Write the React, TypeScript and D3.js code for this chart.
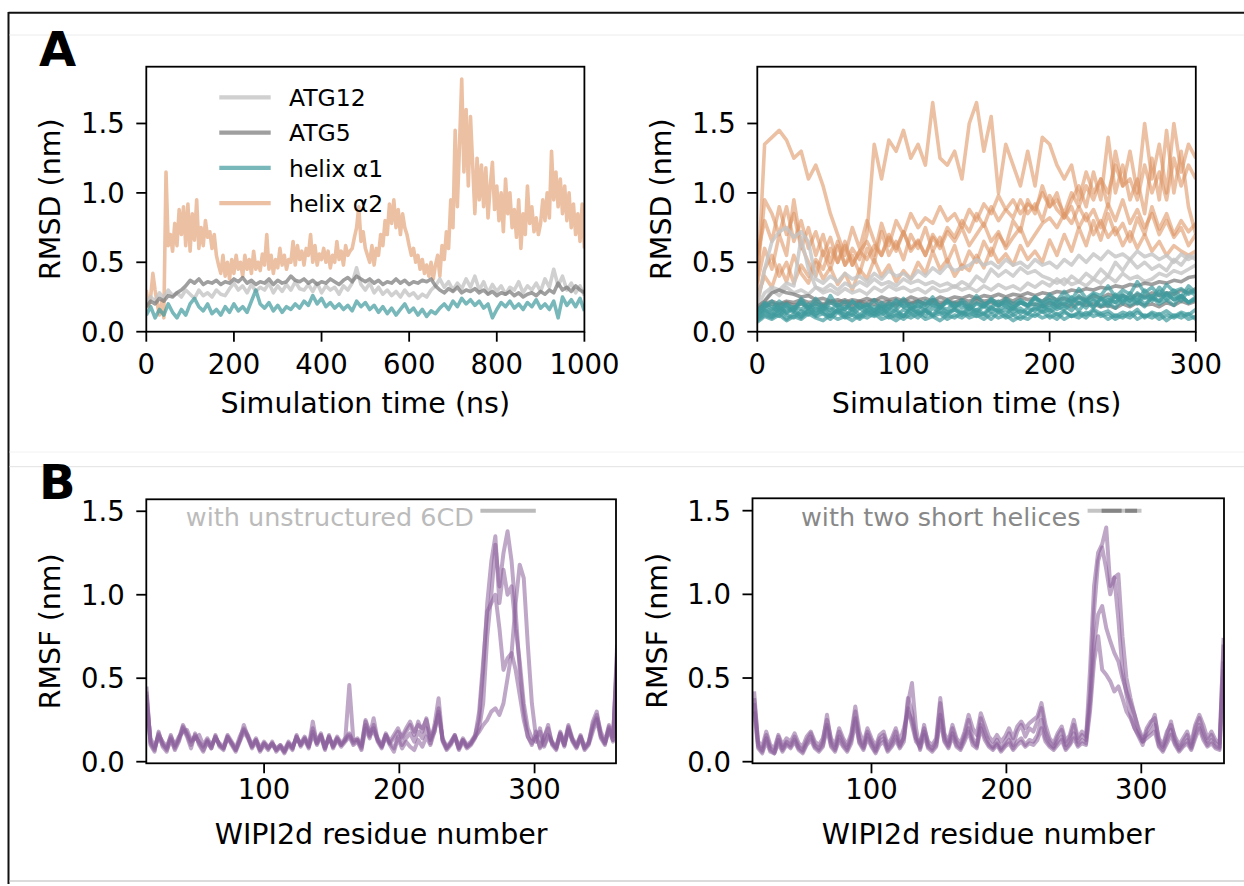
import React from 'react';
import * as d3 from 'd3';

const FONT = 'DejaVu Sans, sans-serif';

// ---------- Panel A (left): single 1000 ns run ----------
const TIME_A_COARSE = d3.range(0, 1001, 10);
const TIME_A_FINE = d3.range(0, 1001, 5);

const ATG12_A = [
  0.20, 0.25, 0.22, 0.28, 0.24, 0.30, 0.26, 0.28, 0.25, 0.30,
  0.27, 0.24, 0.30, 0.26, 0.28, 0.25, 0.30, 0.27, 0.26, 0.31,
  0.35, 0.30, 0.33, 0.28, 0.34, 0.29, 0.32, 0.30, 0.35, 0.28,
  0.33, 0.29, 0.34, 0.30, 0.36, 0.31, 0.30, 0.34, 0.29, 0.35,
  0.28, 0.33, 0.30, 0.32, 0.27, 0.33, 0.30, 0.35, 0.46, 0.34,
  0.30, 0.35, 0.28, 0.32, 0.27, 0.30, 0.26, 0.29, 0.25, 0.30,
  0.26, 0.28, 0.24, 0.27, 0.25, 0.30, 0.33, 0.38, 0.32, 0.36,
  0.30, 0.35, 0.31, 0.38, 0.32, 0.40, 0.30, 0.36, 0.28, 0.34,
  0.29, 0.33, 0.27, 0.32, 0.30, 0.36, 0.28, 0.33, 0.30, 0.35,
  0.29, 0.38, 0.32, 0.45, 0.33, 0.40, 0.30, 0.35, 0.28, 0.33,
  0.26,
];
const ATG5_A = [
  0.18, 0.22, 0.20, 0.24, 0.22, 0.26, 0.25, 0.28, 0.30, 0.33,
  0.37, 0.35, 0.38, 0.34, 0.36, 0.35, 0.37, 0.34, 0.36, 0.35,
  0.38, 0.36, 0.39, 0.35, 0.37, 0.34, 0.36, 0.35, 0.38, 0.34,
  0.37, 0.35, 0.36, 0.40, 0.37, 0.36, 0.38, 0.35, 0.37, 0.34,
  0.36, 0.35, 0.38, 0.36, 0.34, 0.37, 0.39, 0.36, 0.40, 0.38,
  0.36, 0.38, 0.35, 0.37, 0.34, 0.36, 0.35, 0.38, 0.35, 0.37,
  0.34, 0.36, 0.35, 0.37, 0.36, 0.38, 0.33, 0.30, 0.28, 0.31,
  0.29, 0.32, 0.28, 0.30, 0.29, 0.31, 0.28, 0.30, 0.27, 0.29,
  0.26, 0.28, 0.27, 0.29, 0.26, 0.28, 0.25, 0.27, 0.28, 0.26,
  0.29, 0.27, 0.30, 0.28, 0.35, 0.30, 0.32, 0.29, 0.33, 0.30,
  0.28,
];
const HELIX1_A = [
  0.12, 0.18, 0.10, 0.16, 0.12, 0.20, 0.14, 0.10, 0.16, 0.12,
  0.20, 0.24, 0.18, 0.15, 0.20, 0.13, 0.16, 0.12, 0.18, 0.14,
  0.20, 0.15, 0.18, 0.14, 0.22, 0.30, 0.20, 0.17, 0.21, 0.15,
  0.19, 0.14, 0.18, 0.16, 0.20, 0.17, 0.22, 0.19, 0.26, 0.20,
  0.24, 0.18, 0.21, 0.17, 0.20, 0.16, 0.19, 0.15, 0.22, 0.18,
  0.21, 0.16, 0.19, 0.14, 0.18, 0.13, 0.17, 0.12, 0.16, 0.20,
  0.14, 0.17, 0.12, 0.16, 0.11, 0.15, 0.13, 0.17, 0.20, 0.16,
  0.22, 0.18, 0.24, 0.20, 0.23, 0.19, 0.22, 0.17, 0.20, 0.10,
  0.16, 0.21, 0.18, 0.22, 0.17, 0.20, 0.16, 0.21, 0.18, 0.23,
  0.17, 0.20, 0.16, 0.22, 0.10, 0.25, 0.19, 0.23, 0.18, 0.24,
  0.15,
];
const HELIX2_A = [
  0.30, 0.18, 0.25, 0.42, 0.30, 0.20, 0.12, 0.22, 0.10, 1.15,
  0.62, 0.70, 0.58, 0.78, 0.62, 0.88, 0.70, 0.90, 0.62, 0.92,
  0.58, 0.85, 0.66, 0.95, 0.60, 0.75, 0.62, 0.80, 0.68, 0.72,
  0.60, 0.70, 0.55, 0.48, 0.42, 0.55, 0.40, 0.50, 0.38, 0.52,
  0.42, 0.55, 0.45, 0.50, 0.40, 0.55, 0.45, 0.52, 0.42, 0.58,
  0.45, 0.50, 0.44, 0.56, 0.48, 0.70, 0.45, 0.55, 0.42, 0.52,
  0.46, 0.60, 0.48, 0.55, 0.45, 0.52, 0.50, 0.65, 0.48, 0.62,
  0.52, 0.58, 0.48, 0.60, 0.55, 0.70, 0.50, 0.62, 0.48, 0.56,
  0.52, 0.60, 0.50, 0.58, 0.46, 0.55, 0.50, 0.65, 0.52, 0.58,
  0.48, 0.62, 0.55, 0.58, 0.60, 0.68, 0.75, 0.90, 0.65, 0.72,
  0.60, 0.55, 0.50, 0.62, 0.48, 0.60, 0.55, 0.70, 0.62, 0.80,
  0.70, 0.92, 0.78, 0.95, 0.75, 0.88, 0.70, 0.85, 0.75, 0.70,
  0.62, 0.55, 0.60, 0.50, 0.55, 0.45, 0.52, 0.42, 0.48, 0.40,
  0.50, 0.38, 0.48, 0.55, 0.40, 0.62, 0.52, 0.72, 0.60, 0.95,
  0.75, 1.45, 0.90, 1.35, 1.82, 1.15, 1.60, 1.05, 1.55, 1.20,
  0.85, 1.25, 0.95, 1.20, 0.90, 1.18, 0.82, 1.05, 1.22, 0.88,
  1.05, 0.80, 1.00, 0.72, 1.10, 0.85, 1.00, 0.75, 0.88, 0.68,
  0.95, 0.60, 0.85, 0.70, 1.05, 0.78, 0.90, 0.72, 0.82, 0.70,
  0.78, 0.95, 0.80, 1.00, 0.82, 1.30, 0.95, 1.15, 0.90, 1.10,
  0.85, 1.05, 0.80, 1.00, 0.75, 0.92, 0.70, 0.85, 0.65, 0.92,
  0.60,
];

// ---------- Panel A (right): replicate 300 ns runs ----------
const TIME_A_REP = d3.range(0, 301, 5);

const HELIX2_REPS = [
  [0.30, 1.35, 1.40, 1.45, 1.38, 1.25, 1.30, 1.10, 1.20, 1.05, 0.85, 0.70, 0.55, 0.75, 0.60, 0.80, 0.65, 0.55, 0.70, 0.60,
   0.72, 0.58, 0.65, 0.55, 0.68, 0.60, 0.72, 0.65, 0.75, 0.62, 0.70, 0.78, 0.65, 0.72, 0.60, 0.68, 0.75, 0.62, 0.70, 0.78,
   0.82, 0.75, 0.85, 0.78, 0.90, 0.80, 0.88, 0.75, 0.92, 0.80, 0.95, 0.78, 0.88, 0.75, 0.85, 0.70, 0.80, 0.68, 0.75, 0.62, 0.70],
  [0.55, 0.80, 0.65, 0.90, 0.70, 0.85, 0.60, 0.75, 0.55, 0.70, 0.50, 0.65, 0.48, 0.60, 0.52, 0.70, 1.35, 1.10, 1.38, 1.30,
   1.45, 1.25, 1.35, 1.20, 1.65, 1.25, 1.20, 1.30, 1.10, 1.50, 1.65, 1.30, 1.55, 1.00, 1.35, 1.20, 1.05, 1.30, 1.05, 1.40,
   1.35, 1.20, 1.10, 1.20, 0.95, 1.15, 1.00, 1.10, 0.90, 1.30, 1.05, 1.10, 0.95, 1.20, 1.00, 1.15, 0.95, 1.25, 1.05, 1.20, 1.10],
  [0.40, 0.95, 0.85, 0.70, 0.90, 0.65, 0.80, 0.60, 0.72, 0.55, 0.68, 0.50, 0.62, 0.48, 0.58, 0.65, 0.55, 0.78, 0.62, 0.80,
   0.70, 0.85, 0.75, 0.82, 0.78, 0.90, 0.80, 0.85, 0.75, 0.88, 0.80, 0.92, 0.85, 0.98, 0.88, 0.95, 0.85, 0.92, 0.88, 1.00,
   0.90, 0.95, 0.85, 1.00, 0.90, 1.05, 0.95, 1.10, 1.00, 1.20, 1.05, 1.30, 1.00, 1.50, 1.10, 1.35, 1.00, 1.50, 1.15, 1.35, 1.25],
  [0.20, 0.45, 0.55, 0.40, 0.50, 0.35, 0.48, 0.40, 0.52, 0.45, 0.60, 0.50, 0.65, 0.48, 0.58, 0.52, 0.62, 0.55, 0.68, 0.58,
   0.72, 0.60, 0.66, 0.55, 0.70, 0.62, 0.75, 0.68, 0.80, 0.72, 0.85, 0.76, 0.90, 0.80, 0.88, 0.82, 0.95, 0.85, 0.92, 0.80,
   0.98, 0.88, 0.82, 0.90, 0.75, 0.85, 0.70, 0.80, 0.68, 0.75, 0.62, 0.72, 0.60, 0.70, 0.58, 0.65, 0.55, 0.62, 0.58, 0.55, 0.58],
  [0.35, 0.60, 0.45, 0.70, 0.55, 0.95, 0.62, 0.50, 0.40, 0.58, 0.45, 0.62, 0.48, 0.55, 0.42, 0.60, 0.50, 0.72, 0.55, 0.65,
   0.52, 0.70, 0.60, 0.75, 0.58, 0.68, 0.50, 0.62, 0.45, 0.58, 0.50, 0.65, 0.55, 0.70, 0.62, 0.80, 0.72, 0.95, 0.85, 1.05,
   0.90, 1.00, 0.82, 0.95, 1.05, 0.90, 1.15, 0.95, 1.40, 1.00, 1.20, 0.95, 1.10, 0.85, 1.25, 0.95, 1.45, 1.00, 1.30, 0.90, 0.70],
  [0.25, 0.40, 0.32, 0.48, 0.36, 0.55, 0.42, 0.35, 0.50, 0.38, 0.46, 0.34, 0.42, 0.30, 0.45, 0.38, 0.52, 0.40, 0.48, 0.36,
   0.44, 0.38, 0.50, 0.42, 0.58, 0.45, 0.52, 0.40, 0.48, 0.44, 0.55, 0.46, 0.60, 0.50, 0.56, 0.48, 0.62, 0.52, 0.58, 0.50,
   0.66, 0.55, 0.70, 0.58, 0.75, 0.62, 0.80, 0.66, 0.85, 0.70, 0.78, 0.65, 0.82, 0.70, 0.90, 0.74, 0.85, 0.70, 0.80, 0.72, 0.78],
];
const ATG12_REPS = [
  [0.20, 0.45, 0.65, 0.72, 0.75, 0.68, 0.72, 0.65, 0.38, 0.35, 0.40, 0.36, 0.42, 0.38, 0.40, 0.36, 0.42, 0.38, 0.44, 0.40,
   0.42, 0.38, 0.44, 0.40, 0.46, 0.42, 0.48, 0.44, 0.46, 0.48, 0.52, 0.48, 0.50, 0.46, 0.52, 0.48, 0.50, 0.46, 0.52, 0.48,
   0.50, 0.46, 0.52, 0.48, 0.55, 0.50, 0.56, 0.52, 0.58, 0.54, 0.56, 0.52, 0.58, 0.54, 0.56, 0.52, 0.55, 0.50, 0.56, 0.52, 0.55],
  [0.18, 0.28, 0.32, 0.30, 0.35, 0.33, 0.68, 0.45, 0.32, 0.30, 0.34, 0.30, 0.35, 0.32, 0.36, 0.33, 0.38, 0.34, 0.36, 0.33,
   0.38, 0.35, 0.37, 0.34, 0.36, 0.33, 0.35, 0.32, 0.36, 0.33, 0.40, 0.36, 0.45, 0.40, 0.44, 0.40, 0.46, 0.42, 0.44, 0.40,
   0.38, 0.35, 0.38, 0.34, 0.36, 0.33, 0.38, 0.35, 0.40, 0.36, 0.42, 0.38, 0.40, 0.36, 0.38, 0.42, 0.40, 0.44, 0.42, 0.45, 0.48],
  [0.15, 0.22, 0.30, 0.26, 0.32, 0.28, 0.30, 0.27, 0.32, 0.28, 0.30, 0.27, 0.31, 0.28, 0.30, 0.27, 0.32, 0.29, 0.33, 0.30,
   0.32, 0.29, 0.31, 0.28, 0.32, 0.29, 0.30, 0.33, 0.30, 0.32, 0.29, 0.33, 0.30, 0.34, 0.31, 0.33, 0.30, 0.35, 0.32, 0.36,
   0.33, 0.38, 0.34, 0.40, 0.36, 0.42, 0.38, 0.45, 0.40, 0.50, 0.44, 0.52, 0.46, 0.50, 0.45, 0.48, 0.44, 0.52, 0.48, 0.55, 0.52],
];
const ATG5_REPS = [
  [0.18, 0.22, 0.28, 0.30, 0.28, 0.27, 0.25, 0.26, 0.23, 0.24, 0.22, 0.23, 0.21, 0.23, 0.22, 0.24, 0.22, 0.25, 0.23, 0.24,
   0.22, 0.25, 0.23, 0.24, 0.22, 0.25, 0.23, 0.25, 0.24, 0.26, 0.24, 0.26, 0.25, 0.27, 0.25, 0.27, 0.26, 0.28, 0.26, 0.28,
   0.27, 0.29, 0.28, 0.30, 0.29, 0.31, 0.30, 0.32, 0.31, 0.33, 0.32, 0.34, 0.33, 0.35, 0.34, 0.36, 0.35, 0.37, 0.36, 0.39, 0.40],
  [0.16, 0.20, 0.22, 0.20, 0.22, 0.21, 0.23, 0.21, 0.22, 0.20, 0.22, 0.21, 0.23, 0.20, 0.22, 0.21, 0.23, 0.21, 0.22, 0.20,
   0.23, 0.21, 0.22, 0.20, 0.23, 0.21, 0.22, 0.21, 0.23, 0.22, 0.24, 0.22, 0.23, 0.21, 0.24, 0.22, 0.25, 0.23, 0.24, 0.22,
   0.25, 0.23, 0.24, 0.22, 0.25, 0.23, 0.26, 0.24, 0.27, 0.25, 0.26, 0.24, 0.27, 0.25, 0.28, 0.26, 0.28, 0.27, 0.30, 0.28, 0.31],
  [0.15, 0.18, 0.20, 0.19, 0.21, 0.19, 0.20, 0.18, 0.20, 0.19, 0.21, 0.19, 0.20, 0.18, 0.21, 0.19, 0.20, 0.18, 0.20, 0.19,
   0.21, 0.20, 0.22, 0.20, 0.21, 0.19, 0.22, 0.20, 0.21, 0.19, 0.22, 0.20, 0.21, 0.19, 0.22, 0.20, 0.21, 0.19, 0.20, 0.18,
   0.21, 0.19, 0.20, 0.18, 0.21, 0.19, 0.20, 0.18, 0.19, 0.17, 0.20, 0.18, 0.21, 0.19, 0.20, 0.18, 0.21, 0.19, 0.22, 0.20, 0.22],
];
const HELIX1_REPS = [
  [0.10, 0.15, 0.12, 0.18, 0.13, 0.17, 0.11, 0.16, 0.12, 0.18, 0.13, 0.15, 0.11, 0.17, 0.12, 0.16, 0.13, 0.18, 0.12, 0.16,
   0.11, 0.17, 0.13, 0.15, 0.12, 0.18, 0.14, 0.16, 0.12, 0.17, 0.13, 0.19, 0.14, 0.16, 0.12, 0.18, 0.13, 0.17, 0.15, 0.19,
   0.14, 0.18, 0.16, 0.20, 0.15, 0.22, 0.17, 0.24, 0.18, 0.26, 0.20, 0.28, 0.22, 0.30, 0.24, 0.32, 0.26, 0.30, 0.25, 0.33, 0.28],
  [0.12, 0.18, 0.22, 0.16, 0.20, 0.15, 0.24, 0.17, 0.21, 0.16, 0.26, 0.18, 0.22, 0.15, 0.20, 0.17, 0.23, 0.16, 0.21, 0.18,
   0.24, 0.17, 0.22, 0.19, 0.25, 0.18, 0.21, 0.17, 0.23, 0.19, 0.26, 0.20, 0.22, 0.18, 0.24, 0.20, 0.23, 0.19, 0.25, 0.21,
   0.27, 0.22, 0.29, 0.23, 0.31, 0.24, 0.28, 0.26, 0.33, 0.25, 0.30, 0.27, 0.36, 0.28, 0.32, 0.26, 0.34, 0.29, 0.31, 0.27, 0.30],
  [0.08, 0.12, 0.10, 0.14, 0.09, 0.13, 0.10, 0.15, 0.11, 0.13, 0.09, 0.14, 0.10, 0.12, 0.09, 0.13, 0.11, 0.14, 0.10, 0.12,
   0.09, 0.13, 0.10, 0.15, 0.11, 0.13, 0.09, 0.12, 0.10, 0.14, 0.11, 0.13, 0.09, 0.14, 0.10, 0.12, 0.09, 0.13, 0.11, 0.15,
   0.10, 0.13, 0.09, 0.12, 0.10, 0.14, 0.11, 0.13, 0.09, 0.12, 0.10, 0.14, 0.09, 0.12, 0.10, 0.13, 0.08, 0.12, 0.10, 0.13, 0.09],
  [0.14, 0.20, 0.16, 0.22, 0.18, 0.15, 0.21, 0.17, 0.24, 0.18, 0.15, 0.20, 0.16, 0.22, 0.17, 0.19, 0.15, 0.21, 0.17, 0.23,
   0.18, 0.20, 0.16, 0.22, 0.19, 0.17, 0.23, 0.18, 0.21, 0.16, 0.20, 0.18, 0.24, 0.19, 0.22, 0.17, 0.21, 0.19, 0.25, 0.20,
   0.23, 0.18, 0.22, 0.20, 0.26, 0.21, 0.24, 0.19, 0.23, 0.21, 0.27, 0.22, 0.25, 0.20, 0.24, 0.22, 0.28, 0.23, 0.26, 0.21, 0.25],
  [0.11, 0.16, 0.13, 0.11, 0.17, 0.14, 0.12, 0.18, 0.13, 0.15, 0.11, 0.16, 0.14, 0.12, 0.17, 0.13, 0.15, 0.12, 0.16, 0.14,
   0.11, 0.17, 0.13, 0.16, 0.12, 0.15, 0.13, 0.17, 0.14, 0.12, 0.16, 0.13, 0.18, 0.14, 0.16, 0.12, 0.15, 0.13, 0.17, 0.14,
   0.16, 0.12, 0.15, 0.11, 0.14, 0.12, 0.16, 0.13, 0.15, 0.11, 0.14, 0.12, 0.16, 0.10, 0.14, 0.12, 0.15, 0.11, 0.14, 0.12, 0.16],
  [0.13, 0.17, 0.15, 0.19, 0.14, 0.18, 0.16, 0.20, 0.15, 0.19, 0.17, 0.14, 0.18, 0.16, 0.20, 0.15, 0.18, 0.14, 0.19, 0.16,
   0.21, 0.17, 0.19, 0.15, 0.20, 0.17, 0.22, 0.18, 0.20, 0.16, 0.21, 0.18, 0.23, 0.19, 0.21, 0.17, 0.22, 0.19, 0.20, 0.18,
   0.23, 0.20, 0.25, 0.21, 0.24, 0.22, 0.27, 0.23, 0.25, 0.21, 0.26, 0.22, 0.28, 0.24, 0.26, 0.22, 0.27, 0.23, 0.25, 0.21, 0.24],
  [0.09, 0.14, 0.11, 0.16, 0.12, 0.10, 0.15, 0.12, 0.17, 0.13, 0.11, 0.16, 0.12, 0.14, 0.10, 0.15, 0.12, 0.17, 0.13, 0.11,
   0.16, 0.13, 0.15, 0.11, 0.17, 0.14, 0.12, 0.16, 0.13, 0.18, 0.14, 0.12, 0.17, 0.15, 0.19, 0.14, 0.17, 0.13, 0.18, 0.15,
   0.20, 0.16, 0.19, 0.15, 0.21, 0.17, 0.23, 0.18, 0.21, 0.17, 0.24, 0.19, 0.22, 0.18, 0.25, 0.20, 0.23, 0.19, 0.26, 0.21, 0.23],
  [0.15, 0.21, 0.18, 0.14, 0.20, 0.17, 0.22, 0.16, 0.19, 0.15, 0.21, 0.18, 0.16, 0.22, 0.17, 0.20, 0.15, 0.19, 0.16, 0.22,
   0.18, 0.15, 0.20, 0.17, 0.23, 0.18, 0.16, 0.21, 0.17, 0.19, 0.15, 0.20, 0.17, 0.22, 0.18, 0.16, 0.21, 0.18, 0.24, 0.19,
   0.17, 0.22, 0.19, 0.25, 0.20, 0.23, 0.18, 0.24, 0.21, 0.27, 0.22, 0.25, 0.20, 0.26, 0.22, 0.29, 0.23, 0.27, 0.22, 0.30, 0.26],
  [0.07, 0.11, 0.09, 0.12, 0.08, 0.11, 0.09, 0.13, 0.10, 0.08, 0.12, 0.09, 0.11, 0.08, 0.12, 0.10, 0.13, 0.09, 0.11, 0.08,
   0.12, 0.10, 0.13, 0.09, 0.11, 0.08, 0.12, 0.10, 0.14, 0.10, 0.12, 0.09, 0.13, 0.10, 0.12, 0.08, 0.11, 0.09, 0.13, 0.10,
   0.12, 0.09, 0.14, 0.11, 0.13, 0.10, 0.15, 0.11, 0.13, 0.09, 0.12, 0.10, 0.14, 0.11, 0.13, 0.09, 0.12, 0.10, 0.13, 0.09, 0.11],
];

// ---------- Panel B: RMSF per residue ----------
const RESIDUES = d3.range(13, 362, 3);

const RMSF_UNSTRUCTURED = [
  [0.45, 0.10, 0.06, 0.18, 0.09, 0.06, 0.14, 0.07, 0.12, 0.20,
   0.15, 0.08, 0.17, 0.10, 0.06, 0.12, 0.08, 0.16, 0.09, 0.07,
   0.15, 0.10, 0.06, 0.12, 0.18, 0.14, 0.08, 0.12, 0.06, 0.10,
   0.07, 0.12, 0.06, 0.09, 0.05, 0.10, 0.07, 0.16, 0.09, 0.13,
   0.08, 0.18, 0.10, 0.15, 0.07, 0.16, 0.08, 0.13, 0.09, 0.12,
   0.15, 0.10, 0.12, 0.07, 0.20, 0.14, 0.22, 0.12, 0.08, 0.15,
   0.10, 0.06, 0.14, 0.08, 0.12, 0.09, 0.07, 0.13, 0.09, 0.15,
   0.10, 0.18, 0.32, 0.12, 0.07, 0.10, 0.15, 0.07, 0.12, 0.08,
   0.10, 0.14, 0.20, 0.35, 0.75, 1.00, 1.30, 1.05, 1.25, 1.38,
   1.20, 0.90, 0.55, 0.30, 0.15, 0.10, 0.18, 0.08, 0.14, 0.22,
   0.10, 0.07, 0.16, 0.09, 0.20, 0.12, 0.08, 0.14, 0.07, 0.10,
   0.18, 0.25, 0.14, 0.10, 0.20, 0.12, 0.70],
  [0.40, 0.12, 0.08, 0.15, 0.10, 0.08, 0.16, 0.09, 0.14, 0.22,
   0.17, 0.12, 0.14, 0.16, 0.10, 0.14, 0.10, 0.14, 0.11, 0.09,
   0.16, 0.12, 0.08, 0.15, 0.20, 0.16, 0.10, 0.14, 0.08, 0.12,
   0.09, 0.11, 0.08, 0.10, 0.07, 0.12, 0.09, 0.14, 0.11, 0.15,
   0.10, 0.20, 0.12, 0.17, 0.09, 0.14, 0.10, 0.15, 0.11, 0.14,
   0.17, 0.12, 0.14, 0.10, 0.25, 0.18, 0.20, 0.14, 0.10, 0.17,
   0.12, 0.16, 0.20, 0.14, 0.18, 0.22, 0.16, 0.24, 0.18, 0.26,
   0.14, 0.20, 0.28, 0.14, 0.09, 0.12, 0.16, 0.09, 0.14, 0.10,
   0.12, 0.16, 0.25, 0.55, 0.95, 1.20, 1.35, 0.95, 1.15, 1.00,
   1.05, 0.80, 0.60, 0.35, 0.20, 0.14, 0.12, 0.20, 0.10, 0.16,
   0.12, 0.09, 0.18, 0.11, 0.22, 0.14, 0.10, 0.16, 0.09, 0.12,
   0.22, 0.28, 0.18, 0.12, 0.22, 0.15, 0.60],
  [0.35, 0.14, 0.09, 0.16, 0.12, 0.09, 0.15, 0.10, 0.15, 0.18,
   0.19, 0.13, 0.15, 0.12, 0.09, 0.13, 0.09, 0.15, 0.10, 0.08,
   0.14, 0.11, 0.07, 0.13, 0.22, 0.15, 0.09, 0.13, 0.07, 0.11,
   0.08, 0.10, 0.07, 0.09, 0.06, 0.11, 0.08, 0.15, 0.10, 0.14,
   0.09, 0.16, 0.11, 0.16, 0.08, 0.15, 0.09, 0.14, 0.10, 0.13,
   0.46, 0.13, 0.13, 0.09, 0.24, 0.16, 0.18, 0.13, 0.09, 0.16,
   0.11, 0.14, 0.18, 0.15, 0.20, 0.24, 0.18, 0.22, 0.20, 0.25,
   0.13, 0.18, 0.30, 0.13, 0.08, 0.11, 0.15, 0.08, 0.13, 0.09,
   0.11, 0.15, 0.18, 0.22, 0.25, 0.30, 0.32, 0.28, 0.35, 0.50,
   0.65, 0.95, 1.18, 1.10, 0.70, 0.35, 0.15, 0.18, 0.09, 0.15,
   0.11, 0.08, 0.17, 0.10, 0.21, 0.13, 0.09, 0.15, 0.08, 0.11,
   0.20, 0.26, 0.16, 0.11, 0.21, 0.13, 0.55],
  [0.42, 0.11, 0.07, 0.17, 0.11, 0.07, 0.13, 0.08, 0.13, 0.21,
   0.16, 0.10, 0.16, 0.11, 0.07, 0.12, 0.08, 0.15, 0.10, 0.08,
   0.15, 0.11, 0.07, 0.13, 0.19, 0.15, 0.09, 0.13, 0.07, 0.11,
   0.08, 0.11, 0.07, 0.10, 0.06, 0.11, 0.08, 0.15, 0.10, 0.14,
   0.09, 0.24, 0.11, 0.16, 0.08, 0.15, 0.09, 0.14, 0.10, 0.13,
   0.16, 0.11, 0.13, 0.08, 0.22, 0.15, 0.26, 0.13, 0.09, 0.16,
   0.11, 0.08, 0.15, 0.10, 0.14, 0.17, 0.12, 0.18, 0.14, 0.20,
   0.11, 0.22, 0.38, 0.13, 0.08, 0.11, 0.16, 0.08, 0.13, 0.09,
   0.11, 0.15, 0.30, 0.60, 0.90, 0.95, 1.00, 0.80, 0.55, 0.62,
   0.65, 0.55, 0.40, 0.25, 0.15, 0.11, 0.15, 0.09, 0.15, 0.20,
   0.11, 0.08, 0.17, 0.10, 0.19, 0.13, 0.09, 0.15, 0.08, 0.11,
   0.24, 0.30, 0.15, 0.11, 0.19, 0.13, 0.65],
];
const RMSF_HELICES = [
  [0.42, 0.10, 0.07, 0.16, 0.08, 0.06, 0.15, 0.08, 0.12, 0.10,
   0.15, 0.09, 0.07, 0.13, 0.17, 0.10, 0.08, 0.12, 0.28, 0.12,
   0.08, 0.18, 0.12, 0.08, 0.15, 0.30, 0.14, 0.09, 0.18, 0.12,
   0.07, 0.14, 0.16, 0.08, 0.12, 0.18, 0.10, 0.14, 0.32, 0.22,
   0.12, 0.09, 0.22, 0.10, 0.08, 0.12, 0.35, 0.15, 0.10, 0.20,
   0.12, 0.09, 0.16, 0.25, 0.14, 0.10, 0.26, 0.18, 0.12, 0.09,
   0.13, 0.08, 0.12, 0.17, 0.10, 0.18, 0.22, 0.15, 0.20, 0.18,
   0.24, 0.32, 0.18, 0.12, 0.09, 0.15, 0.19, 0.10, 0.14, 0.22,
   0.12, 0.16, 0.13, 0.55, 1.05, 1.25, 1.30, 1.40, 1.05, 1.10,
   0.85, 0.55, 0.40, 0.28, 0.20, 0.15, 0.10, 0.18, 0.22, 0.28,
   0.12, 0.09, 0.16, 0.24, 0.13, 0.08, 0.12, 0.16, 0.09, 0.20,
   0.26, 0.18, 0.12, 0.16, 0.11, 0.09, 0.74],
  [0.38, 0.12, 0.09, 0.18, 0.10, 0.08, 0.16, 0.10, 0.14, 0.12,
   0.17, 0.11, 0.09, 0.15, 0.18, 0.12, 0.10, 0.14, 0.25, 0.14,
   0.10, 0.20, 0.14, 0.10, 0.17, 0.33, 0.18, 0.11, 0.20, 0.14,
   0.09, 0.16, 0.18, 0.10, 0.14, 0.20, 0.12, 0.20, 0.30, 0.25,
   0.14, 0.11, 0.20, 0.12, 0.10, 0.14, 0.38, 0.17, 0.12, 0.22,
   0.14, 0.11, 0.18, 0.28, 0.20, 0.16, 0.29, 0.22, 0.15, 0.12,
   0.16, 0.12, 0.15, 0.20, 0.14, 0.21, 0.24, 0.20, 0.23, 0.25,
   0.27, 0.35, 0.22, 0.14, 0.11, 0.17, 0.21, 0.12, 0.16, 0.25,
   0.14, 0.18, 0.15, 0.40, 0.90, 1.20, 1.28, 1.15, 1.00, 1.10,
   1.12, 0.75, 0.50, 0.38, 0.28, 0.18, 0.12, 0.20, 0.24, 0.26,
   0.14, 0.10, 0.18, 0.22, 0.15, 0.10, 0.14, 0.18, 0.11, 0.22,
   0.28, 0.22, 0.14, 0.18, 0.13, 0.11, 0.70],
  [0.35, 0.09, 0.06, 0.14, 0.07, 0.05, 0.13, 0.07, 0.11, 0.09,
   0.13, 0.08, 0.06, 0.11, 0.15, 0.09, 0.07, 0.10, 0.22, 0.10,
   0.07, 0.15, 0.10, 0.07, 0.13, 0.26, 0.12, 0.08, 0.16, 0.10,
   0.06, 0.12, 0.14, 0.07, 0.10, 0.15, 0.09, 0.15, 0.38, 0.30,
   0.14, 0.08, 0.18, 0.09, 0.07, 0.10, 0.28, 0.13, 0.09, 0.17,
   0.10, 0.08, 0.14, 0.20, 0.12, 0.09, 0.22, 0.15, 0.10, 0.08,
   0.11, 0.07, 0.10, 0.13, 0.08, 0.12, 0.14, 0.10, 0.13, 0.12,
   0.16, 0.25, 0.14, 0.10, 0.08, 0.12, 0.15, 0.08, 0.11, 0.17,
   0.10, 0.13, 0.11, 0.35, 0.70, 0.88, 0.93, 0.80, 0.72, 0.65,
   0.60, 0.50, 0.42, 0.35, 0.28, 0.20, 0.14, 0.16, 0.18, 0.22,
   0.10, 0.07, 0.13, 0.19, 0.11, 0.07, 0.10, 0.13, 0.08, 0.16,
   0.22, 0.15, 0.10, 0.13, 0.09, 0.08, 0.60],
  [0.30, 0.08, 0.05, 0.12, 0.06, 0.05, 0.11, 0.06, 0.10, 0.08,
   0.12, 0.07, 0.05, 0.10, 0.13, 0.08, 0.06, 0.09, 0.20, 0.09,
   0.06, 0.13, 0.09, 0.06, 0.11, 0.24, 0.11, 0.07, 0.14, 0.09,
   0.05, 0.10, 0.12, 0.06, 0.09, 0.13, 0.08, 0.12, 0.35, 0.47,
   0.20, 0.07, 0.16, 0.08, 0.06, 0.09, 0.25, 0.12, 0.08, 0.15,
   0.09, 0.07, 0.12, 0.18, 0.10, 0.08, 0.20, 0.13, 0.09, 0.07,
   0.10, 0.06, 0.09, 0.11, 0.07, 0.10, 0.12, 0.09, 0.11, 0.10,
   0.13, 0.20, 0.12, 0.09, 0.07, 0.10, 0.13, 0.07, 0.10, 0.14,
   0.09, 0.11, 0.10, 0.30, 0.60, 0.75, 0.55, 0.52, 0.48, 0.42,
   0.45, 0.38, 0.30, 0.26, 0.20, 0.16, 0.12, 0.14, 0.16, 0.18,
   0.09, 0.06, 0.11, 0.16, 0.10, 0.06, 0.09, 0.11, 0.07, 0.14,
   0.20, 0.13, 0.09, 0.11, 0.08, 0.07, 0.55],
];

const TICKS_A_LEFT = [0, 200, 400, 600, 800, 1000];
const TICKS_A_RIGHT = [0, 100, 200, 300];
const TICKS_B = [100, 200, 300];
const TICKS_Y = [0, 0.5, 1.0, 1.5];
const LEGEND_LABELS = ['ATG12', 'ATG5', 'helix \u03b11', 'helix \u03b12'];

// ---------- styles ----------
const ST = {
  atg12: { color: '#c4c4c4', opacity: 0.8 },
  atg5: { color: '#7a7a7a', opacity: 0.72 },
  h1: { color: '#3f9a9c', opacity: 0.7 },
  h2: { color: '#dd9361', opacity: 0.58 },
  rmsf: { color: '#8b5e9b', opacity: 0.55 },
};

type Series = { xs: number[]; ys: number[]; color: string; opacity: number; width: number };
type Box = { l: number; r: number; t: number; b: number };

function Axes(props: {
  id: string; box: Box; xDomain: [number, number]; yDomain: [number, number];
  xTicks: number[]; xTickBaseline: number; xLabel: string; xLabelBaseline: number;
  yLabel: string; yLabelX: number; series: Series[];
}) {
  const { id, box, xDomain, yDomain, xTicks, xTickBaseline, xLabel, xLabelBaseline, yLabel, yLabelX, series } = props;
  const x = d3.scaleLinear().domain(xDomain).range([box.l, box.r]);
  const y = d3.scaleLinear().domain(yDomain).range([box.b, box.t]);
  const mk = (s: Series) => {
    const n = Math.min(s.xs.length, s.ys.length);
    const pts: [number, number][] = d3.range(n).map((i) => [s.xs[i], s.ys[i]]);
    return d3.line<[number, number]>().x((p) => x(p[0])).y((p) => y(p[1]))(pts) || '';
  };
  const tickLen = 10;
  const fs = 27.5;
  const yMid = (box.t + box.b) / 2;
  return (
    <g>
      <defs>
        <clipPath id={id}>
          <rect x={box.l} y={box.t} width={box.r - box.l} height={box.b - box.t} />
        </clipPath>
      </defs>
      <g clipPath={`url(#${id})`}>
        {series.map((s, i) => (
          <path key={i} d={mk(s)} fill="none" stroke={s.color} strokeOpacity={s.opacity}
            strokeWidth={s.width} strokeLinejoin="round" strokeLinecap="butt" />
        ))}
      </g>
      <rect x={box.l} y={box.t} width={box.r - box.l} height={box.b - box.t} fill="none" stroke="#000" strokeWidth={1.8} />
      {xTicks.map((t) => (
        <g key={'x' + t}>
          <line x1={x(t)} x2={x(t)} y1={box.b} y2={box.b + tickLen} stroke="#000" strokeWidth={1.8} />
          <text x={x(t)} y={xTickBaseline} textAnchor="middle" fontSize={fs} fontFamily={FONT} fill="#000">{t}</text>
        </g>
      ))}
      {TICKS_Y.map((t) => (
        <g key={'y' + t}>
          <line x1={box.l - tickLen} x2={box.l} y1={y(t)} y2={y(t)} stroke="#000" strokeWidth={1.8} />
          <text x={box.l - 21.5} y={y(t) + 0.364 * fs} textAnchor="end" fontSize={fs} fontFamily={FONT} fill="#000">{t.toFixed(1)}</text>
        </g>
      ))}
      <text x={(box.l + box.r) / 2} y={xLabelBaseline} textAnchor="middle" fontSize={28.5} fontFamily={FONT} fill="#000">{xLabel}</text>
      <text transform={`translate(${yLabelX},${yMid}) rotate(-90)`} textAnchor="middle" fontSize={28.5} fontFamily={FONT} fill="#000">{yLabel}</text>
    </g>
  );
}

export default function App() {
  const W = 1244, H = 886;
  const lw = 3.6;
  const lwB = 4;

  const aLeft: Series[] = [
    { xs: TIME_A_FINE, ys: HELIX2_A, ...ST.h2, width: lw },
    { xs: TIME_A_COARSE, ys: ATG12_A, ...ST.atg12, width: lw },
    { xs: TIME_A_COARSE, ys: ATG5_A, ...ST.atg5, width: lw },
    { xs: TIME_A_COARSE, ys: HELIX1_A, ...ST.h1, width: lw },
  ];
  const aRight: Series[] = [
    ...HELIX2_REPS.map((ys) => ({ xs: TIME_A_REP, ys, ...ST.h2, width: lw })),
    ...ATG12_REPS.map((ys) => ({ xs: TIME_A_REP, ys, ...ST.atg12, width: lw })),
    ...ATG5_REPS.map((ys) => ({ xs: TIME_A_REP, ys, ...ST.atg5, width: lw })),
    ...HELIX1_REPS.map((ys) => ({ xs: TIME_A_REP, ys, ...ST.h1, width: lw })),
  ];
  const bLeft: Series[] = RMSF_UNSTRUCTURED.map((ys) => ({ xs: RESIDUES, ys, ...ST.rmsf, width: lwB }));
  const bRight: Series[] = RMSF_HELICES.map((ys) => ({ xs: RESIDUES, ys, ...ST.rmsf, width: lwB }));

  const legendStyles = [ST.atg12, ST.atg5, ST.h1, ST.h2];

  return (
    <svg width={W} height={H} style={{ position: 'absolute', left: 0, top: 0, background: '#fff' }}>
      <rect x={0} y={0} width={W} height={H} fill="#fff" />
      {/* outer frame and separators */}
      <line x1={8.5} x2={W} y1={12.7} y2={12.7} stroke="#111" strokeWidth={2} />
      <line x1={8.5} x2={8.5} y1={12} y2={884} stroke="#111" strokeWidth={2} />
      <line x1={9.5} x2={W} y1={35} y2={35} stroke="#ececec" strokeWidth={1} />
      <line x1={9.5} x2={W} y1={452} y2={452} stroke="#f2f2f2" strokeWidth={1} />
      <line x1={9.5} x2={W} y1={466.7} y2={466.7} stroke="#e2e2e2" strokeWidth={1} />
      <line x1={9.5} x2={W} y1={881} y2={881} stroke="#cfcfcf" strokeWidth={1.5} />

      <text x={39} y={66} fontSize={48} fontWeight="bold" fontFamily={FONT} fill="#000">A</text>
      <text x={39} y={499} fontSize={48} fontWeight="bold" fontFamily={FONT} fill="#000">B</text>

      <Axes id="clipAL" box={{ l: 146.3, r: 584.4, t: 66.7, b: 331.7 }} xDomain={[0, 1000]} yDomain={[0, 1.909]}
        xTicks={TICKS_A_LEFT} xTickBaseline={374} xLabel="Simulation time (ns)" xLabelBaseline={413}
        yLabel="RMSD (nm)" yLabelX={60} series={aLeft} />
      <Axes id="clipAR" box={{ l: 757.3, r: 1195.8, t: 66.7, b: 331.7 }} xDomain={[0, 300]} yDomain={[0, 1.909]}
        xTicks={TICKS_A_RIGHT} xTickBaseline={374} xLabel="Simulation time (ns)" xLabelBaseline={413}
        yLabel="RMSD (nm)" yLabelX={671} series={aRight} />
      <Axes id="clipBL" box={{ l: 146.3, r: 616, t: 499.3, b: 763.3 }} xDomain={[12.9, 360.2]} yDomain={[-0.0096, 1.5717]}
        xTicks={TICKS_B} xTickBaseline={799} xLabel="WIPI2d residue number" xLabelBaseline={844}
        yLabel="RMSF (nm)" yLabelX={60} series={bLeft} />
      <Axes id="clipBR" box={{ l: 752.5, r: 1224, t: 498.3, b: 763.3 }} xDomain={[11.8, 361.3]} yDomain={[-0.0096, 1.5740]}
        xTicks={TICKS_B} xTickBaseline={799} xLabel="WIPI2d residue number" xLabelBaseline={844}
        yLabel="RMSF (nm)" yLabelX={667} series={bRight} />

      {/* legend, panel A left */}
      {LEGEND_LABELS.map((lab, i) => {
        const yy = 97.3 + i * 35.3;
        return (
          <g key={lab}>
            <line x1={219.3} x2={270.7} y1={yy} y2={yy} stroke={legendStyles[i].color} strokeOpacity={legendStyles[i].opacity} strokeWidth={4.2} />
            <text x={289} y={yy + 8.6} fontSize={23.5} fontFamily={FONT} fill="#000">{lab}</text>
          </g>
        );
      })}

      {/* annotations, panel B */}
      <text x={185.8} y={525.5} fontSize={25.5} fontFamily={FONT} fill="#bbbbbb">with unstructured 6CD</text>
      <line x1={480.4} x2={535.8} y1={510.7} y2={510.7} stroke="#bbbbbb" strokeWidth={4} />
      <text x={801} y={525.5} fontSize={25.5} fontFamily={FONT} fill="#888888">with two short helices</text>
      <line x1={1087.6} x2={1141.5} y1={510.7} y2={510.7} stroke="#c4c4c4" strokeWidth={4} />
      <line x1={1087.6} x2={1141.5} y1={510.7} y2={510.7} stroke="#858585" strokeWidth={4} strokeDasharray="0,14,20,3.5,12,10" />
    </svg>
  );
}
